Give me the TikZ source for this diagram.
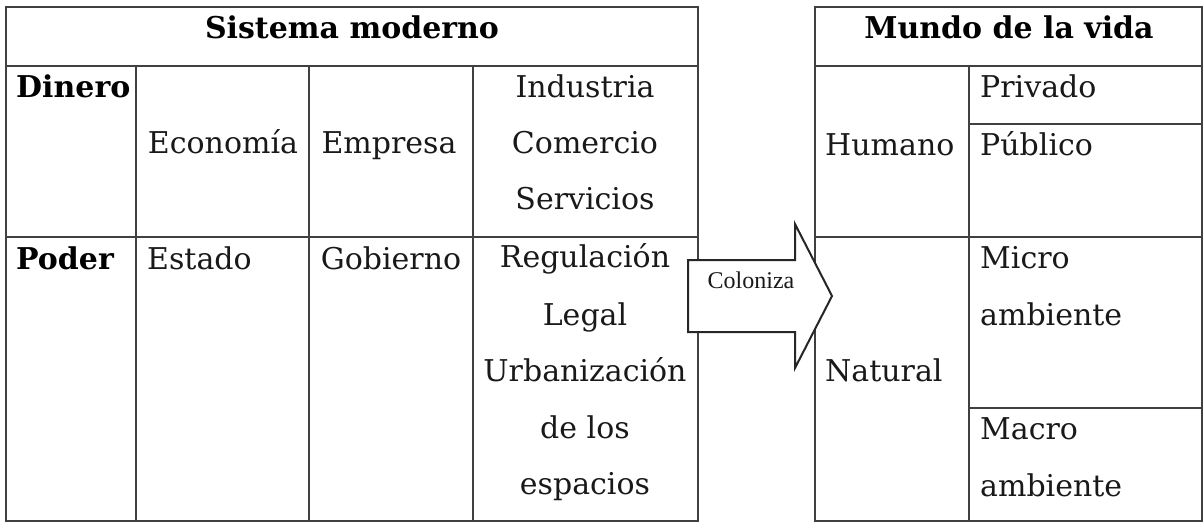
\documentclass[tikz,border=0pt]{standalone}
\usepackage{fontspec}
\setmainfont{DejaVu Serif}
\newfontfamily\arrowfont{Liberation Serif}
\tikzset{
  rule/.style={draw=black!75,line width=1.6pt},
  txt/.style={anchor=base,inner sep=0pt,text=black!90,font=\fontsize{30}{34}\selectfont},
  txtl/.style={txt,anchor=base west},
  head/.style={anchor=base,inner sep=0pt,font=\fontsize{30}{34}\selectfont\bfseries},
  headl/.style={head,anchor=base west},
  arrowshape/.style={draw=black!85,line width=2pt,fill=white,line join=miter}
}
\begin{document}
\begin{tikzpicture}[x=1pt,y=-1pt]
\useasboundingbox[fill=white] (0,0) rectangle (1204,523);
% left table
\draw[rule] (6,7) rectangle (698,521);
\draw[rule] (6,66) -- (698,66);
\draw[rule] (6,237) -- (698,237);
\draw[rule] (136,66) -- (136,521);
\draw[rule] (309,66) -- (309,521);
\draw[rule] (473,66) -- (473,521);
% right table
\draw[rule] (815,7) rectangle (1202,521);
\draw[rule] (815,66) -- (1202,66);
\draw[rule] (815,237) -- (1202,237);
\draw[rule] (969,66) -- (969,521);
\draw[rule] (969,124) -- (1202,124);
\draw[rule] (969,408) -- (1202,408);
% left text
\node[head] (t1) at (352,38) {Sistema moderno};
\node[headl] (d) at (16,97) {Dinero};
\node[headl] (p) at (16,269) {Poder};
\node[txt] (a1) at (223,153) {Economía};
\node[txt] (a2) at (389,153) {Empresa};
\node[txt] (a3) at (585,97) {Industria};
\node[txt] (a4) at (585,153) {Comercio};
\node[txt] (a5) at (585,209) {Servicios};
\node[txtl] (b1) at (147,269) {Estado};
\node[txt] (b2) at (391,269) {Gobierno};
\node[txt] (b3) at (585,267) {Regulación};
\node[txt] (b4) at (585,325) {Legal};
\node[txt] (b5) at (585,381) {Urbanización};
\node[txt] (b6) at (585,438) {de los};
\node[txt] (b7) at (585,494) {espacios};
% right text
\node[head] (t2) at (1009,38) {Mundo de la vida};
\node[txtl] (c1) at (825,155) {Humano};
\node[txtl] (c2) at (825,381) {Natural};
\node[txtl] (e1) at (980,97) {Privado};
\node[txtl] (e2) at (980,155) {Público};
\node[txtl] (e3) at (980,268) {Micro};
\node[txtl] (e4) at (980,325) {ambiente};
\node[txtl] (e5) at (980,439) {Macro};
\node[txtl] (e6) at (980,496) {ambiente};
% arrow
\draw[arrowshape] (688,260) -- (795,260) -- (795,224) -- (832,296) -- (795,368) -- (795,332) -- (688,332) -- cycle;
\node[anchor=base,inner sep=0pt,text=black!90,font=\arrowfont\fontsize{24}{26}\selectfont] (col) at (751,288) {Coloniza};
\end{tikzpicture}
\end{document}
